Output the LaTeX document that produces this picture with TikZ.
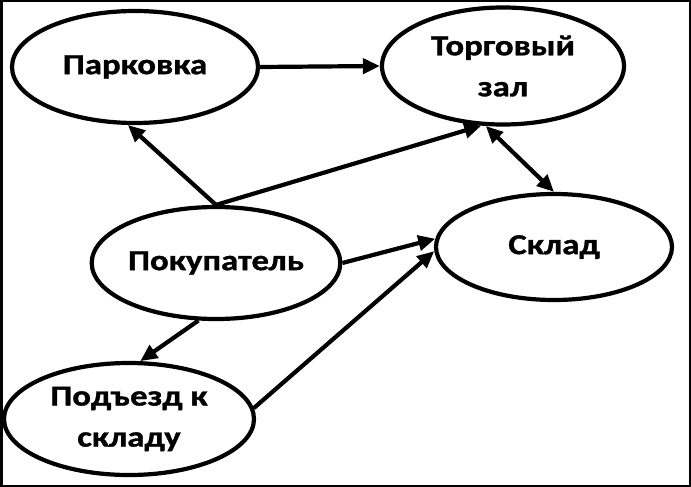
\documentclass[tikz,border=0pt]{standalone}
\usepackage{fontspec}
\setmainfont{Carlito}[FakeStretch=1.2,BoldFeatures={FakeBold=1.2}]
\usetikzlibrary{shapes.geometric,arrows.meta}
\begin{document}
\begin{tikzpicture}[x=1pt,y=-1pt,
  oval/.style={draw=black,line width=4.2pt,ellipse,inner sep=0pt,align=center,
    font=\fontsize{29}{41}\selectfont\bfseries},
  link/.style={line width=4.2pt,-{Triangle[length=17pt,width=15pt]}},
  biLink/.style={line width=4.2pt,{Triangle[length=17pt,width=15pt]}-{Triangle[length=17pt,width=15pt]}}]
\useasboundingbox (0,0) rectangle (691,487);
\draw[line width=2.5pt] (1.25,1.25) rectangle (689.75,485.75);
\node[oval,minimum width=246pt,minimum height=112pt] (park) at (135,67) {Парковка};
\node[oval,minimum width=242pt,minimum height=117pt] (torg) at (503,66) {Торговый\\зал};
\node[oval,minimum width=244pt,minimum height=112pt] (pok) at (216,263) {Покупатель};
\node[oval,minimum width=236pt,minimum height=106pt] (sklad) at (554,247) {Склад};
\node[oval,minimum width=250pt,minimum height=112pt] (podj) at (129,419) {Подъезд к\\складу};
\draw[link] (park.east) -- (torg.west);
\draw[link] (pok.north) -- (park.-97);
\draw[link] (pok.north) -- (torg.-110);
\draw[biLink] (torg.-106) -- (sklad.north);
\draw[link] (pok.east) -- (sklad.176);
\draw[link] (podj.5) -- (sklad.-178);
\draw[link] (pok.-107) -- (podj.79);
\end{tikzpicture}
\end{document}
